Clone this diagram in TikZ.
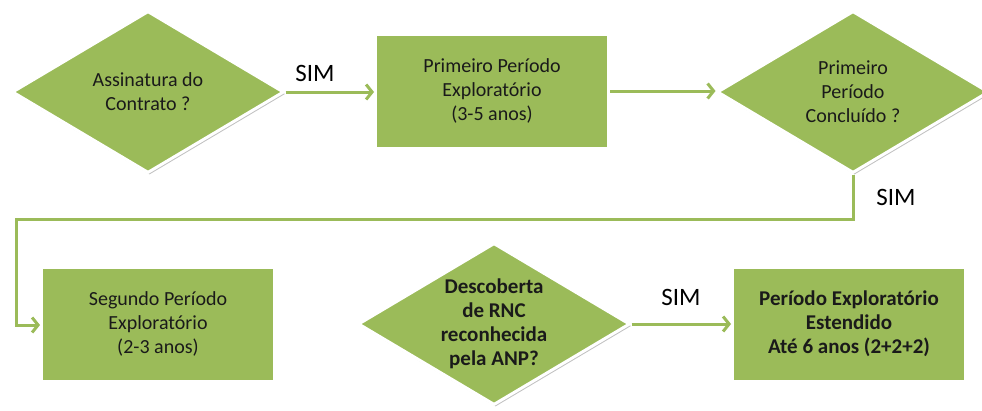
\documentclass[tikz,border=0pt]{standalone}
\usepackage{fontspec}
\setmainfont{Carlito}
\usetikzlibrary{shapes.geometric,arrows.meta,shadows}
\definecolor{olive}{HTML}{9BBB59}
\definecolor{ink}{HTML}{1A1A1A}
\tikzset{
  boxshadow/.style={drop shadow={shadow xshift=1.5pt,shadow yshift=-2pt,opacity=0.35,fill=black!70}},
  procbox/.style={rectangle,draw=white,line width=3pt,fill=olive,minimum width=233pt,minimum height=114pt,
    inner sep=0pt,align=center,text=ink,font=\fontsize{20pt}{24pt}\selectfont,boxshadow},
  decide/.style={diamond,draw=white,line width=3pt,fill=olive,minimum width=272pt,minimum height=162pt,
    shape aspect=1.68,inner sep=0pt,align=center,text=ink,font=\fontsize{20pt}{24pt}\selectfont,boxshadow},
  conn/.style={draw=olive,line width=3pt,-{Straight Barb[length=6pt,width=15pt]}},
  simlabel/.style={font=\fontsize{25pt}{30pt}\selectfont,text=black,inner sep=0pt},
  strong/.style={font=\fontsize{21pt}{24pt}\selectfont\bfseries}
}
\begin{document}
\begin{tikzpicture}[x=1pt,y=-1pt]
\useasboundingbox (0,0) rectangle (982,410);
\node[decide] (d1) at (148,92) {Assinatura do\\Contrato ?};
\node[procbox] (r1) at (492,91) {Primeiro Período\\Exploratório\\(3-5 anos)};
\node[decide] (d2) at (853,92) {Primeiro\\Período\\Concluído ?};
\node[procbox] (r2) at (158,324) {Segundo Período\\Exploratório\\(2-3 anos)};
\node[decide,strong] (d3) at (494,324) {Descoberta\\de RNC\\reconhecida\\pela ANP?};
\node[procbox,strong] (r3) at (849,324) {Período Exploratório\\Estendido\\Até 6 anos (2+2+2)};

\coordinate (c1) at (853,219);
\coordinate (c2) at (16,219);
\coordinate (c3) at (16,325);

\draw[conn] (d1.east) -- (r1.west |- d1.east);
\draw[conn] (r1.east) -- (d2.west |- r1.east);
\draw[conn] (d2.south) -- (c1) -- (c2) -- (c3) -- (r2.west |- c3);
\draw[conn] (d3.east) -- (r3.west |- d3.east);

\node[simlabel] (s1) at (315,73) {SIM};
\node[simlabel] (s2) at (896,197) {SIM};
\node[simlabel] (s3) at (681,297) {SIM};
\end{tikzpicture}
\end{document}
